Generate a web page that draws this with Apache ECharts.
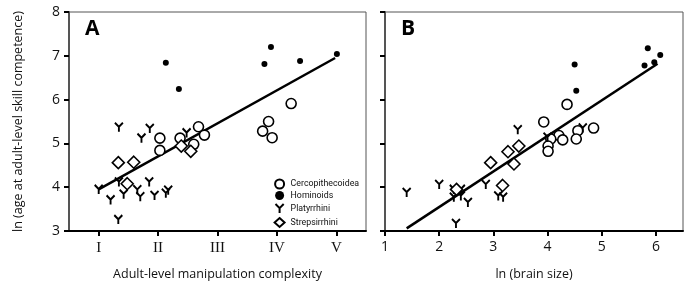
<!DOCTYPE html>
<html style="height: 100%">

<head>
    <meta charset="utf-8">
</head>

<body style="height: 100%; margin: 0; background: #fff">
    <div id="container" style="width: 689px; height: 286px"></div>

    <script src="https://cdn.jsdelivr.net/npm/echarts@6/dist/echarts.min.js"></script>

    <script type="text/javascript">
        // ---- data ----
        var romanLabels = ['I', 'II', 'III', 'IV', 'V'];
        var brainTicks = [1, 2, 3, 4, 5, 6];
        var yTicks = [3, 4, 5, 6, 7, 8];

        // panel A: [manipulation complexity, ln(age)]
        var cercoA = [[4.24, 5.91], [3.86, 5.50], [3.76, 5.28], [3.92, 5.13], [2.03, 5.12], [2.03, 4.84],
            [2.37, 5.12], [2.68, 5.38], [2.78, 5.19], [2.60, 4.98]];
        var hominA = [[2.13, 6.84], [2.35, 6.24], [3.90, 7.20], [3.79, 6.81], [4.39, 6.88], [5.01, 7.04]];
        var platyA = [[1.34, 5.37], [1.72, 5.12], [1.86, 5.34], [2.48, 5.24], [1.00, 3.95], [1.20, 3.71],
            [1.34, 4.12], [1.42, 3.84], [1.65, 3.94], [1.70, 3.78], [1.85, 4.12], [1.94, 3.81],
            [2.13, 3.86], [2.17, 3.93], [1.33, 3.26]];
        var strepA = [[1.33, 4.56], [1.59, 4.57], [1.48, 4.08], [2.39, 4.94], [2.55, 4.82]];
        var fitA = [[1.0, 3.95], [4.98, 6.95]];

        // panel B: [ln(brain size), ln(age)]
        var cercoB = [[4.36, 5.89], [3.93, 5.49], [4.85, 5.35], [4.56, 5.29], [4.21, 5.18], [4.06, 5.10],
            [4.28, 5.08], [4.53, 5.10], [4.01, 4.94], [4.01, 4.82]];
        var hominB = [[4.50, 6.80], [4.53, 6.20], [5.85, 7.17], [5.79, 6.78], [5.97, 6.85], [6.08, 7.02]];
        var platyB = [[1.40, 3.88], [2.00, 4.06], [2.27, 3.95], [2.40, 3.95], [2.27, 3.77], [2.40, 3.80],
            [2.53, 3.65], [2.86, 4.06], [3.09, 3.80], [3.18, 3.77], [2.31, 3.17], [3.45, 5.31],
            [4.65, 5.35], [4.00, 5.14]];
        var strepB = [[2.32, 3.95], [2.95, 4.56], [3.17, 4.04], [3.27, 4.81], [3.38, 4.53], [3.47, 4.94]];
        var fitB = [[1.40, 3.06], [6.03, 6.82]];

        var font = '"Open Sans", sans-serif';
        // "Y" marker for Platyrrhini
        var ySymbol = 'path://M0,0 L5,5 L10,0 M5,5 L5,11';

        var myChart = echarts.init(document.getElementById('container'));

        function scatter(name, data, idx) {
            var s = {
                name: name,
                type: 'scatter',
                data: data,
                xAxisIndex: idx,
                yAxisIndex: idx,
                z: 3
            };
            if (name === 'Cercopithecoidea') {
                s.symbol = 'circle';
                s.symbolSize = 10;
                s.itemStyle = { color: '#fff', borderColor: '#000', borderWidth: 1.6, opacity: 1 };
            } else if (name === 'Hominoids') {
                s.symbol = 'circle';
                s.symbolSize = 6;
                s.itemStyle = { color: '#000', opacity: 1 };
            } else if (name === 'Platyrrhini') {
                s.symbol = ySymbol;
                s.symbolSize = [8, 9];
                s.itemStyle = { color: 'none', borderColor: '#000', borderWidth: 2, opacity: 1 };
            } else {
                s.symbol = 'diamond';
                s.symbolSize = 12;
                s.itemStyle = { color: '#fff', borderColor: '#000', borderWidth: 1.6, opacity: 1 };
            }
            return s;
        }

        function fitLine(data, idx) {
            return {
                type: 'line',
                data: data,
                xAxisIndex: idx,
                yAxisIndex: idx,
                symbol: 'none',
                lineStyle: { color: '#000', width: 2.5 },
                z: 2,
                silent: true
            };
        }

        function yAxis(idx, showLabels) {
            return {
                gridIndex: idx,
                type: 'value',
                min: 3,
                max: 8,
                interval: 1,
                name: showLabels ? 'ln (age at adult-level skill competence)' : '',
                nameLocation: 'middle',
                nameGap: 44,
                nameTextStyle: { fontFamily: font, fontSize: 12.5, color: '#111' },
                axisLine: { show: true, lineStyle: { color: '#555', width: 2 } },
                axisTick: { show: true, inside: false, length: 5, lineStyle: { color: '#000', width: 2 } },
                axisLabel: { show: showLabels, fontFamily: font, fontSize: 14, color: '#111', margin: 9 },
                splitLine: { show: false }
            };
        }

        var option = {
            animation: false,
            backgroundColor: '#fff',
            title: [
                { text: 'A', left: 80, top: 14, textStyle: { fontFamily: font, fontWeight: 'bold', fontSize: 21, color: '#000' } },
                { text: 'B', left: 396, top: 14, textStyle: { fontFamily: font, fontWeight: 'bold', fontSize: 21, color: '#000' } }
            ],
            legend: {
                data: ['Cercopithecoidea', 'Hominoids', 'Platyrrhini', 'Strepsirrhini'],
                orient: 'vertical',
                left: 273,
                top: 178.5,
                padding: 0,
                itemWidth: 10,
                itemHeight: 9,
                itemGap: 1.5,
                textStyle: { fontFamily: 'Roboto, sans-serif', fontSize: 8.8, color: '#111', padding: [0, 0, 0, 1] }
            },
            grid: [
                { left: 69, top: 12, width: 297, height: 224, show: true, borderColor: '#555', borderWidth: 1 },
                { left: 385, top: 12, width: 298, height: 224, show: true, borderColor: '#555', borderWidth: 1 }
            ],
            xAxis: [
                {
                    gridIndex: 0,
                    type: 'value',
                    min: 0.5,
                    max: 5.5,
                    name: 'Adult-level manipulation complexity',
                    nameLocation: 'middle',
                    nameGap: 37,
                    nameTextStyle: { fontFamily: font, fontSize: 12.5, color: '#111' },
                    axisLine: { show: true, lineStyle: { color: '#000', width: 2 } },
                    axisTick: { show: true, length: 5, customValues: [1, 2, 3, 4, 5], lineStyle: { color: '#000', width: 2 } },
                    axisLabel: {
                        fontFamily: '"Liberation Serif", serif',
                        fontSize: 15,
                        color: '#111',
                        margin: 10,
                        customValues: [1, 2, 3, 4, 5],
                        formatter: function (v) {
                            return romanLabels[Math.round(v) - 1];
                        }
                    },
                    splitLine: { show: false }
                },
                {
                    gridIndex: 1,
                    type: 'value',
                    min: 1,
                    max: 6.5,
                    name: 'ln (brain size)',
                    nameLocation: 'middle',
                    nameGap: 37,
                    nameTextStyle: { fontFamily: font, fontSize: 12.5, color: '#111' },
                    axisLine: { show: true, lineStyle: { color: '#000', width: 2 } },
                    axisTick: { show: true, length: 5, customValues: brainTicks, lineStyle: { color: '#000', width: 2 } },
                    axisLabel: { fontFamily: font, fontSize: 14, color: '#111', margin: 9, customValues: brainTicks },
                    splitLine: { show: false }
                }
            ],
            yAxis: [yAxis(0, true), yAxis(1, false)],
            series: [
                fitLine(fitA, 0),
                scatter('Cercopithecoidea', cercoA, 0),
                scatter('Hominoids', hominA, 0),
                scatter('Platyrrhini', platyA, 0),
                scatter('Strepsirrhini', strepA, 0),
                fitLine(fitB, 1),
                scatter('Cercopithecoidea', cercoB, 1),
                scatter('Hominoids', hominB, 1),
                scatter('Platyrrhini', platyB, 1),
                scatter('Strepsirrhini', strepB, 1)
            ]
        };

        myChart.setOption(option);
    </script>
</body>

</html>
